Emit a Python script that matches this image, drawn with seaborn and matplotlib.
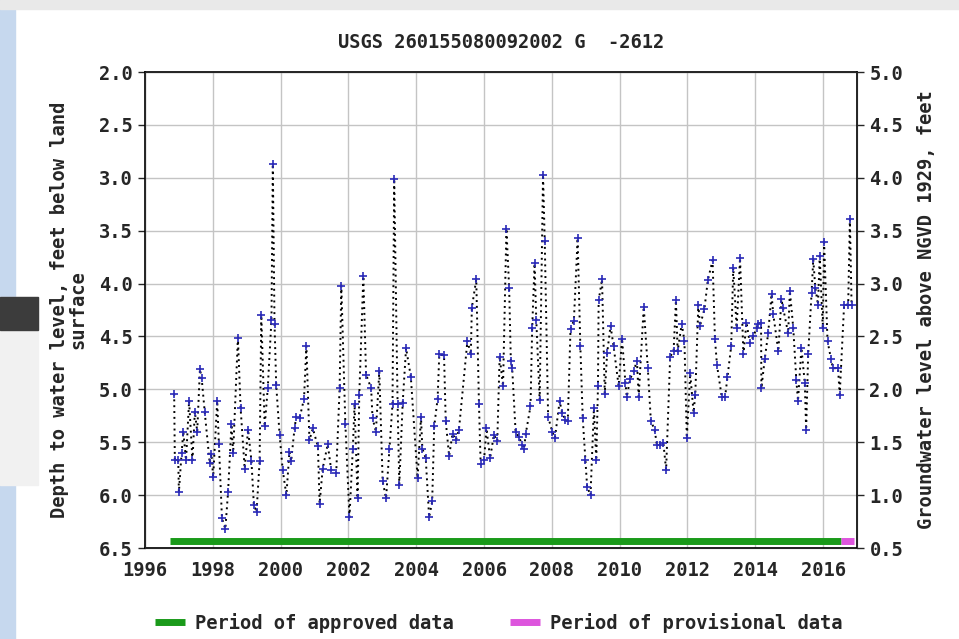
import matplotlib
matplotlib.use("Agg")
import matplotlib.pyplot as plt
from matplotlib.lines import Line2D
from matplotlib.patches import Rectangle
import seaborn as sns
import pandas as pd

sns.set_style("white")
plt.rcParams["font.family"] = ["DejaVu Sans Mono", "DejaVu Sans"]
plt.rcParams["font.weight"] = "bold"
plt.rcParams["axes.titleweight"] = "bold"
plt.rcParams["axes.labelweight"] = "bold"

# decimal year of each measurement, depth to water (ft below land surface)
years = [
    1996.86, 1996.88, 1996.98, 1997.00, 1997.08, 1997.13, 1997.21, 1997.30, 1997.40, 1997.47,
    1997.54, 1997.62, 1997.67, 1997.76, 1997.91, 1997.96, 1998.01, 1998.13, 1998.18, 1998.27,
    1998.37, 1998.45, 1998.55, 1998.60, 1998.74, 1998.82, 1998.94, 1999.04, 1999.14, 1999.21,
    1999.29, 1999.38, 1999.43, 1999.53, 1999.62, 1999.73, 1999.77, 1999.82, 1999.87, 1999.97,
    2000.06, 2000.17, 2000.26, 2000.31, 2000.41, 2000.46, 2000.56, 2000.69, 2000.76, 2000.85,
    2000.95, 2001.10, 2001.15, 2001.24, 2001.39, 2001.49, 2001.64, 2001.74, 2001.79, 2001.91,
    2002.03, 2002.13, 2002.18, 2002.27, 2002.32, 2002.44, 2002.52, 2002.67, 2002.71, 2002.81,
    2002.91, 2003.01, 2003.11, 2003.21, 2003.30, 2003.35, 2003.45, 2003.50, 2003.60, 2003.70,
    2003.84, 2004.04, 2004.14, 2004.18, 2004.28, 2004.38, 2004.47, 2004.53, 2004.63, 2004.68,
    2004.82, 2004.87, 2004.97, 2005.07, 2005.17, 2005.26, 2005.51, 2005.61, 2005.64, 2005.77,
    2005.85, 2005.90, 2006.00, 2006.07, 2006.18, 2006.29, 2006.39, 2006.46, 2006.56, 2006.66,
    2006.74, 2006.79, 2006.83, 2006.93, 2007.03, 2007.13, 2007.18, 2007.23, 2007.37, 2007.42,
    2007.49, 2007.54, 2007.64, 2007.74, 2007.79, 2007.89, 2008.01, 2008.09, 2008.23, 2008.30,
    2008.40, 2008.47, 2008.55, 2008.65, 2008.76, 2008.84, 2008.91, 2008.99, 2009.04, 2009.14,
    2009.24, 2009.31, 2009.36, 2009.38, 2009.48, 2009.56, 2009.63, 2009.73, 2009.82, 2009.97,
    2010.07, 2010.17, 2010.21, 2010.31, 2010.41, 2010.51, 2010.56, 2010.71, 2010.83, 2010.92,
    2011.03, 2011.10, 2011.20, 2011.29, 2011.37, 2011.49, 2011.59, 2011.66, 2011.71, 2011.83,
    2011.91, 2011.98, 2012.08, 2012.18, 2012.23, 2012.32, 2012.37, 2012.50, 2012.60, 2012.74,
    2012.81, 2012.87, 2013.01, 2013.11, 2013.18, 2013.29, 2013.35, 2013.45, 2013.55, 2013.65,
    2013.74, 2013.84, 2013.94, 2014.04, 2014.09, 2014.17, 2014.18, 2014.28, 2014.38, 2014.48,
    2014.53, 2014.68, 2014.77, 2014.82, 2014.97, 2015.02, 2015.12, 2015.21, 2015.26, 2015.36,
    2015.46, 2015.50, 2015.56, 2015.66, 2015.71, 2015.77, 2015.85, 2015.90, 2015.99, 2016.03,
    2016.13, 2016.23, 2016.29, 2016.44, 2016.49, 2016.62, 2016.74, 2016.79, 2016.84,
]
depth_ft = [
    5.04, 5.67, 5.67, 5.97, 5.60, 5.40, 5.67, 5.11, 5.67, 5.21,
    5.40, 4.81, 4.89, 5.21, 5.70, 5.61, 5.83, 5.11, 5.52, 6.22,
    6.32, 5.97, 5.33, 5.60, 4.51, 5.18, 5.75, 5.38, 5.68, 6.09,
    6.16, 5.68, 4.30, 5.35, 4.99, 4.34, 2.87, 4.38, 4.96, 5.43,
    5.76, 6.00, 5.59, 5.68, 5.37, 5.26, 5.27, 5.09, 4.59, 5.48,
    5.37, 5.54, 6.08, 5.75, 5.52, 5.76, 5.79, 4.99, 4.02, 5.33,
    6.21, 5.56, 5.14, 6.03, 5.05, 3.93, 4.86, 4.99, 5.27, 5.40,
    4.83, 5.87, 6.03, 5.56, 5.14, 3.01, 5.14, 5.90, 5.13, 4.61,
    4.88, 5.84, 5.26, 5.56, 5.65, 6.21, 6.06, 5.35, 5.09, 4.67,
    4.68, 5.30, 5.63, 5.42, 5.48, 5.38, 4.54, 4.67, 4.23, 3.96,
    5.14, 5.71, 5.67, 5.37, 5.65, 5.43, 5.49, 4.69, 4.97, 3.48,
    4.04, 4.73, 4.80, 5.40, 5.45, 5.53, 5.56, 5.42, 5.16, 4.42,
    3.81, 4.34, 5.10, 2.97, 3.60, 5.26, 5.40, 5.46, 5.11, 5.22,
    5.29, 5.30, 4.43, 4.35, 3.57, 4.59, 5.27, 5.67, 5.92, 6.00,
    5.18, 5.67, 4.97, 4.16, 3.96, 5.04, 4.66, 4.40, 4.59, 4.97,
    4.52, 4.94, 5.07, 4.90, 4.83, 4.73, 5.07, 4.22, 4.80, 5.30,
    5.38, 5.53, 5.53, 5.51, 5.76, 4.69, 4.64, 4.16, 4.64, 4.38,
    4.54, 5.46, 4.85, 5.22, 5.05, 4.20, 4.40, 4.24, 3.97, 3.78,
    4.52, 4.77, 5.07, 5.07, 4.88, 4.59, 3.85, 4.42, 3.76, 4.67,
    4.37, 4.56, 4.50, 4.42, 4.38, 4.37, 4.99, 4.71, 4.47, 4.10,
    4.29, 4.64, 4.15, 4.23, 4.47, 4.07, 4.42, 4.91, 5.11, 4.61,
    4.94, 5.38, 4.67, 4.09, 3.77, 4.04, 4.20, 3.74, 4.42, 3.61,
    4.54, 4.71, 4.80, 4.80, 5.05, 4.20, 4.20, 3.39, 4.20,
]

# data-approval periods (decimal years)
approved_period = [1996.74, 2016.53]
provisional_period = [2016.53, 2016.90]

title = "USGS 260155080092002 G  -2612"
x_ticks = list(range(1996, 2017, 2))
left_ticks = [2.0, 2.5, 3.0, 3.5, 4.0, 4.5, 5.0, 5.5, 6.0, 6.5]
right_ticks = [0.5, 1.0, 1.5, 2.0, 2.5, 3.0, 3.5, 4.0, 4.5, 5.0]
datum_offset = 7.0  # depth 2.0 -> 5.0 ft above NGVD 1929

fs = 13.5
df = pd.DataFrame({"year": years, "depth": depth_ft})

fig = plt.figure(figsize=(9.59, 6.39), dpi=100)
# page background bits around the chart
fig.patches.append(Rectangle((0, 0), 15 / 959, 1, transform=fig.transFigure,
                             color="#c6d8ee", zorder=-5))
fig.patches.append(Rectangle((0, 1 - 9 / 639), 1, 9 / 639, transform=fig.transFigure,
                             color="#e9e9e9", zorder=-5))
fig.patches.append(Rectangle((0, 1 - 485 / 639), 38 / 959, 188 / 639, transform=fig.transFigure,
                             color="#f1f1f1", zorder=-4))
fig.patches.append(Rectangle((0, 1 - 330 / 639), 38 / 959, 33 / 639, transform=fig.transFigure,
                             color="#3c3c3c", zorder=-3))

ax = fig.add_axes([145 / 959, 1 - 548 / 639, 712 / 959, 476 / 639])

sns.lineplot(data=df, x="year", y="depth", ax=ax, color="black", sort=False,
             linestyle=(0, (1, 2)), linewidth=1.4, estimator=None)
sns.scatterplot(data=df, x="year", y="depth", ax=ax, marker="+", color="#2a2ab8",
                s=26, linewidth=1.2, zorder=4)

ax.hlines(6.435, *approved_period, color="#1a9a1a", linewidth=5, zorder=3)
ax.hlines(6.435, *provisional_period, color="#dd55dd", linewidth=5, zorder=3)

ax.set_xlim(1996, 2017)
ax.set_ylim(6.5, 2.0)
ax.set_xticks(x_ticks)
ax.set_xticklabels([str(t) for t in x_ticks])
ax.set_yticks(left_ticks)
ax.set_yticklabels([f"{t:.1f}" for t in left_ticks])
ax.grid(True, color="#c4c4c4", linewidth=1)
ax.tick_params(direction="out", length=5, width=1, labelsize=fs, pad=4)
ax.set_xlabel("")
ax.set_ylabel("Depth to water level, feet below land\nsurface", fontsize=fs,
              labelpad=8, linespacing=0.95)
for s in ax.spines.values():
    s.set_color("black")
    s.set_linewidth(1.2)

ax2 = ax.twinx()
ax2.set_ylim(datum_offset - 6.5, datum_offset - 2.0)
ax2.set_yticks(right_ticks)
ax2.set_yticklabels([f"{t:.1f}" for t in right_ticks])
ax2.tick_params(direction="out", length=5, width=1, labelsize=fs, pad=4)
ax2.set_ylabel("Groundwater level above NGVD 1929, feet", fontsize=fs, labelpad=10)
ax2.grid(False)

ax.set_title(title, fontsize=fs, pad=17)

handles = [Line2D([], [], color="#1a9a1a", linewidth=5, solid_capstyle="butt"),
           Line2D([], [], color="#dd55dd", linewidth=5, solid_capstyle="butt")]
fig.legend(handles, ["Period of approved data", "Period of provisional data"],
           loc="center", bbox_to_anchor=(0.52, 1 - 623 / 639), ncol=2, frameon=False,
           fontsize=fs, handlelength=1.6, handletextpad=0.55, columnspacing=3.0)

fig.savefig("out.png", dpi=100)
